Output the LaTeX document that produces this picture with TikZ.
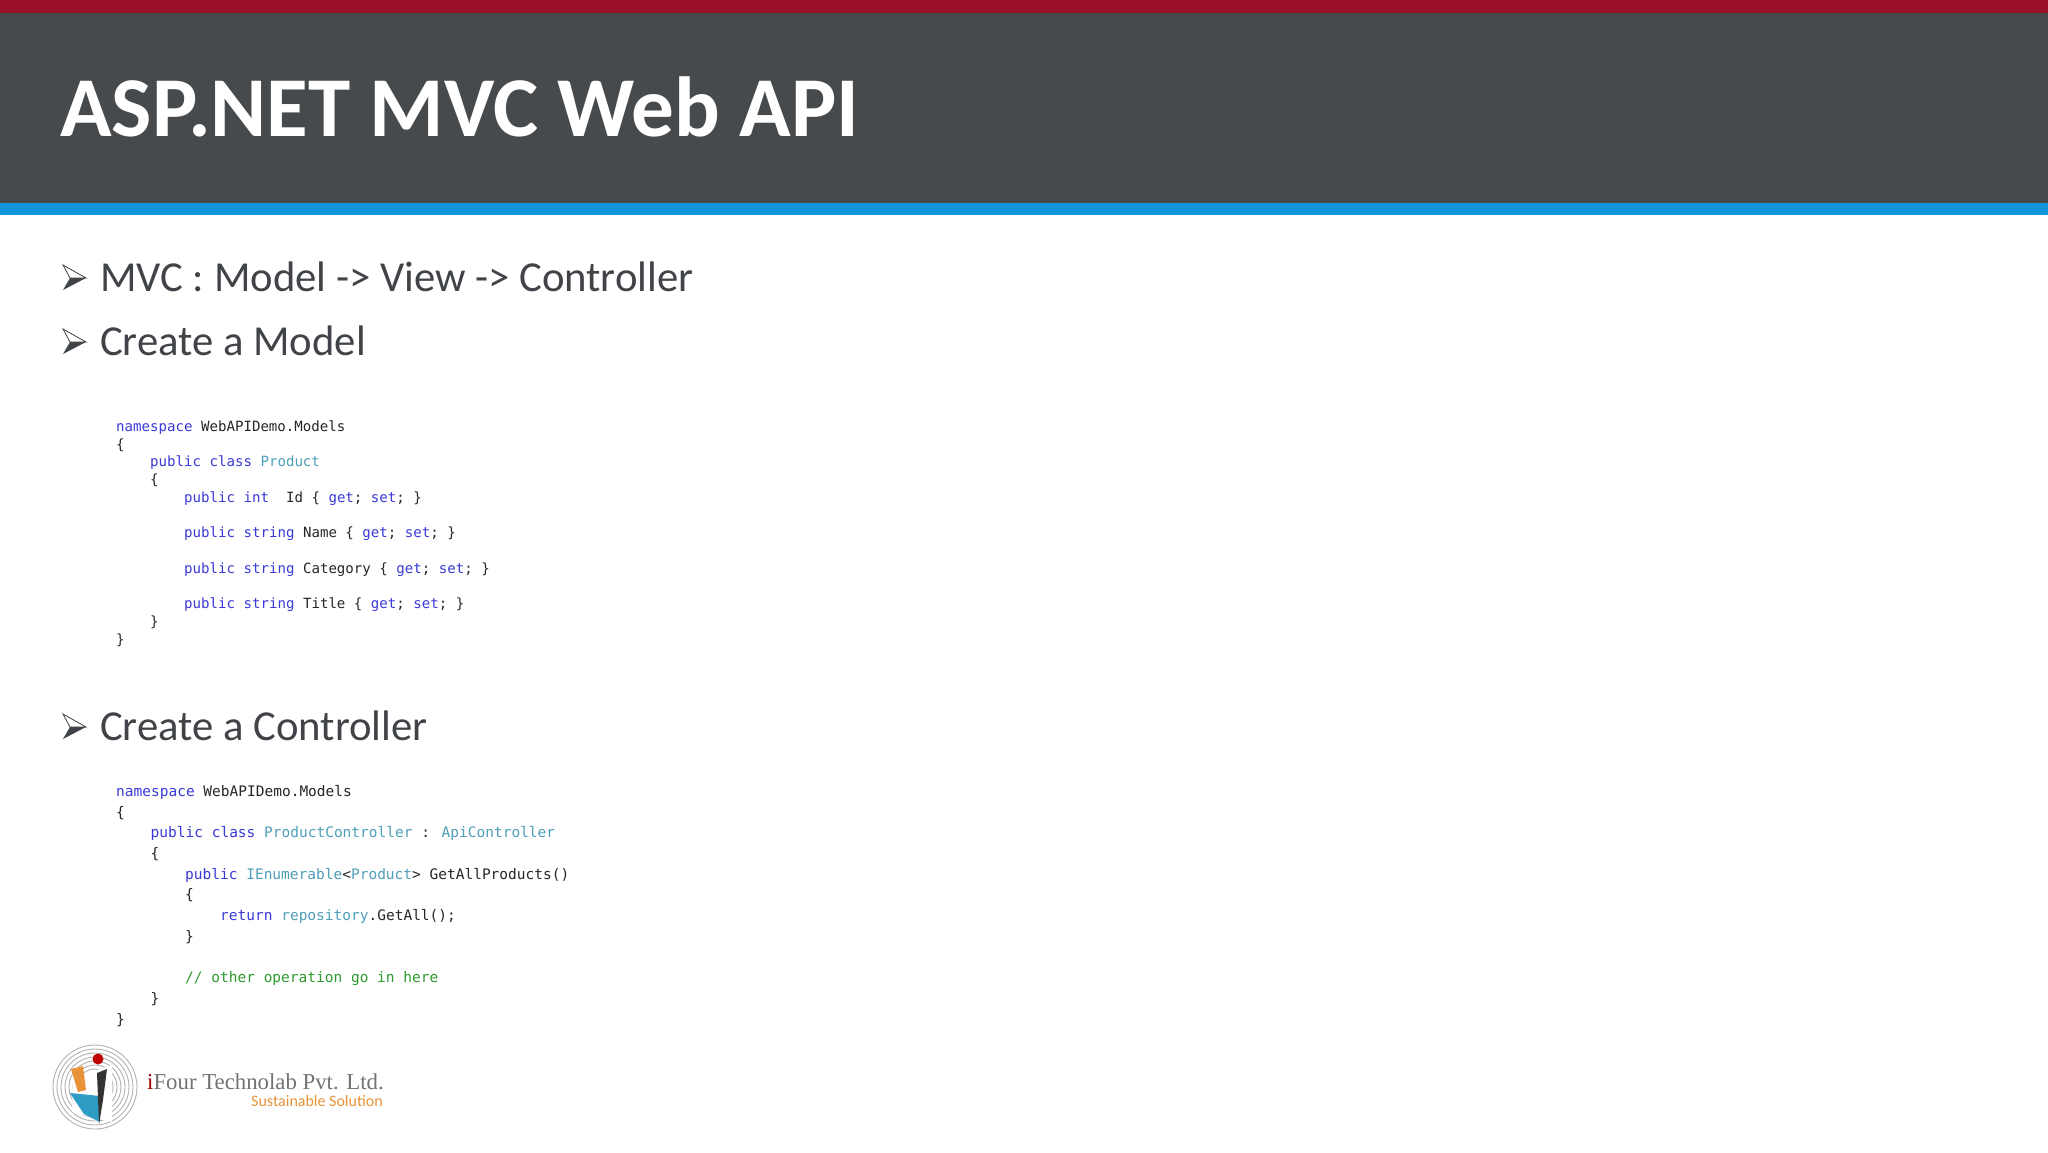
\documentclass[tikz,border=0pt]{standalone}
\usepackage{fontspec}
\setmainfont{Carlito}
\newfontfamily\codefont{DejaVu Sans Mono}
\newfontfamily\logofont{Liberation Serif}
\definecolor{topred}{HTML}{9B1029}
\definecolor{headgray}{HTML}{464A4C}
\definecolor{headblue}{HTML}{1296DB}
\definecolor{bodytext}{HTML}{404347}
\definecolor{kwblue}{HTML}{3A3AD8}
\definecolor{tyteal}{HTML}{4E9FB8}
\definecolor{cmgreen}{HTML}{2E9A2E}
\definecolor{logoorange}{HTML}{E8923A}
\definecolor{logoblue}{HTML}{2E9CC4}
\newcommand{\kw}[1]{\textcolor{kwblue}{#1}}
\newcommand{\ty}[1]{\textcolor{tyteal}{#1}}
\tikzset{
  itemtext/.style={anchor=base west, inner sep=0pt, text=bodytext, font=\fontsize{42.7}{50}\selectfont},
  codeA/.style={anchor=base west, inner sep=0pt, text=black!85, font=\codefont\fontsize{14.1}{17}\selectfont},
  codeB/.style={anchor=base west, inner sep=0pt, text=black!85, font=\codefont\fontsize{14.5}{17}\selectfont}
}
\begin{document}
\begin{tikzpicture}[x=1pt,y=-1pt]
        \useasboundingbox (0,0) rectangle (2048,1152);
        \fill[white] (0,0) rectangle (2048,1152);

        % Header
        \fill[topred] (0,0) rectangle (2048,13);
        \fill[headgray] (0,13) rectangle (2048,203);
        \fill[headblue] (0,203) rectangle (2048,215);
        \node[anchor=base west, inner sep=0pt, text=white, font=\bfseries\fontsize{85.2}{90}\selectfont] (title) at (60,136) {ASP.NET MVC Web API};

        % Bullets
        \foreach \by/\bname in {278/one, 342/two, 727/three} {
            \filldraw[fill=white, draw=bodytext, line width=0.8pt] (63,\by-13) -- (86,\by) -- (70,\by) -- cycle;
            \fill[bodytext] (63,\by+12) -- (86,\by) -- (70,\by) -- cycle;
        }
        \node[itemtext] (mvc) at (100,291) {MVC : Model -> View -> Controller};
        \node[itemtext] (model) at (100,355) {Create a Model};
        \node[itemtext] (controller) at (100,740) {Create a Controller};

        % Model code
        \node[codeA] (m1) at (116,431) {\kw{namespace} WebAPIDemo.Models};
        \node[codeA] (m2) at (116,449) {\{};
        \node[codeA] (m3) at (150,466) {\kw{public class} \ty{Product}};
        \node[codeA] (m4) at (150,484) {\{};
        \node[codeA] (m5) at (184,502) {\kw{public int}~ Id \{ \kw{get}; \kw{set}; \}};
        \node[codeA] (m6) at (184,537) {\kw{public string} Name \{ \kw{get}; \kw{set}; \}};
        \node[codeA] (m7) at (184,573) {\kw{public string} Category \{ \kw{get}; \kw{set}; \}};
        \node[codeA] (m8) at (184,608) {\kw{public string} Title \{ \kw{get}; \kw{set}; \}};
        \node[codeA] (m9) at (150,626) {\}};
        \node[codeA] (m10) at (116,644) {\}};

        % Controller code
        \node[codeB] (c1) at (116,796) {\kw{namespace} WebAPIDemo.Models};
        \node[codeB] (c2) at (116,817) {\{};
        \node[codeB] (c3) at (150.5,837) {\kw{public class} \ty{ProductController} : \ty{ApiController}};
        \node[codeB] (c4) at (150.5,858) {\{};
        \node[codeB] (c5) at (185,879) {\kw{public} \ty{IEnumerable}<\ty{Product}> GetAllProducts()};
        \node[codeB] (c6) at (185,899) {\{};
        \node[codeB] (c7) at (220,920) {\kw{return} \ty{repository}.GetAll();};
        \node[codeB] (c8) at (185,941) {\}};
        \node[codeB, text=cmgreen] (c9) at (185,982) {// other operation go in here};
        \node[codeB] (c10) at (150.5,1003) {\}};
        \node[codeB] (c11) at (116,1024) {\}};

        % Logo
        \foreach \lr in {42,38,34,30,26,22,18} {
            \draw[black!30, line width=0.9pt] (95,1087) circle (\lr);
        }
        \fill[white] (73,1078) -- (112,1065) -- (112,1122) -- (72,1112) -- cycle;
        \fill[logoorange] (71,1069) -- (83,1066) -- (86,1090) -- (78,1092) -- cycle;
        \fill[logoblue] (70,1093) -- (100,1096) -- (100,1122) -- (84,1114) -- cycle;
        \fill[black!80] (97,1073) -- (107,1069) -- (103,1100) -- (99,1124) -- cycle;
        \fill[red!75!black] (98,1059) circle (5.5);
        \node[anchor=base west, inner sep=0pt, text=black!55, font=\logofont\fontsize{22.8}{26}\selectfont] (logoname) at (147,1089) {\textcolor{red!60!black}{i}Four Technolab Pvt. Ltd.};
        \node[anchor=base west, inner sep=0pt, text=logoorange, font=\fontsize{16}{18}\selectfont] (logosub) at (251,1106) {Sustainable Solution};
\end{tikzpicture}
\end{document}
